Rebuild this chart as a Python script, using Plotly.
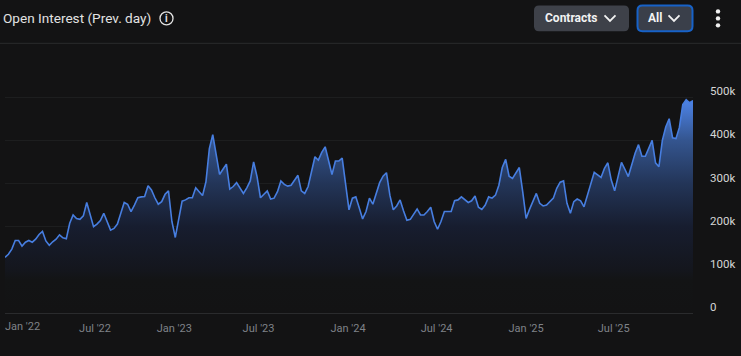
import pandas as pd
import plotly.graph_objects as go

start_date = "2022-01-26"
open_interest_k = [
    129,136,148,168,168,155,164,168,164,171,182,189,167,157,165,171,181,174,172,208,
    227,219,217,225,256,229,200,206,214,231,209,192,196,206,231,256,252,235,250,267,
    269,270,295,285,267,252,258,275,283,212,175,217,259,262,267,267,290,281,272,304,
    381,413,366,321,333,345,287,293,302,289,277,290,306,350,316,267,275,283,264,266,
    281,306,298,294,296,308,319,283,277,293,327,362,354,372,385,354,321,352,352,359,
    292,239,266,269,244,218,235,266,252,277,302,317,325,273,239,248,262,237,215,217,
    229,241,227,227,235,245,212,194,212,235,235,235,260,262,269,262,256,260,271,245,
    240,250,269,266,273,296,337,356,317,312,325,337,281,219,240,258,277,254,248,250,
    258,266,289,303,306,254,231,258,264,260,246,271,296,326,320,314,335,348,308,283,
    316,349,333,316,343,370,390,363,363,381,400,348,339,400,431,450,406,404,430,483,
    494,487,492,
]
dates = pd.date_range(start_date, periods=len(open_interest_k), freq="7D")
values = [v * 1000 for v in open_interest_k]

y_ticks = [0, 100000, 200000, 300000, 400000, 500000, 600000]
y_labels = ["0", "100k", "200k", "300k", "400k", "500k", ""]
x_tick_dates = ["2022-07-30", "2023-01-09", "2023-07-01", "2024-01-01", "2024-07-01", "2025-01-01", "2025-06-30"]
x_tick_labels = ["Jul '22", "Jan '23", "Jul '23", "Jan '24", "Jul '24", "Jan '25", "Jul '25"]

BG = "#131314"
L, R, T, B = 5, 693, 53.7, 313.3
def px(x): return (x - L) / (R - L)
def py(y): return (B - y) / (B - T)

def rrect(x0, y0, x1, y1, r):
    a, b, c, d = px(x0), py(y0), px(x1), py(y1)
    rx, ry = r / (R - L), r / (B - T)
    return (f"M{a+rx},{b} L{c-rx},{b} Q{c},{b} {c},{b-ry} L{c},{d+ry} Q{c},{d} {c-rx},{d} "
            f"L{a+rx},{d} Q{a},{d} {a},{d+ry} L{a},{b-ry} Q{a},{b} {a+rx},{b} Z")

def chevron(cx, cy):
    return f"M{px(cx-5.5)},{py(cy-3)} L{px(cx)},{py(cy+2.5)} L{px(cx+5.5)},{py(cy-3)}"

def paper_shape(**kw):
    return dict(xref="paper", yref="paper", **kw)

shapes = [
    paper_shape(type="line", x0=px(0), x1=px(741), y0=py(43), y1=py(43), line=dict(color="#2a2b2d", width=1)),
    paper_shape(type="circle", x0=px(160), x1=px(173), y0=py(11.5), y1=py(24.5), line=dict(color="#e4e4e4", width=1.3)),
    paper_shape(type="path", path=rrect(534, 5, 629, 31, 5), fillcolor="#3e4149", line=dict(width=0)),
    paper_shape(type="path", path=rrect(637.5, 5, 692.5, 31, 5), fillcolor="#3a3f4a", line=dict(color="#1762c8", width=2)),
    paper_shape(type="path", path=chevron(610, 18), line=dict(color="#f2f2f2", width=1.8)),
    paper_shape(type="path", path=chevron(674, 18), line=dict(color="#f2f2f2", width=1.8)),
]
for cy in (11, 18, 25):
    shapes.append(paper_shape(type="circle", x0=px(715.8), x1=px(720.2), y0=py(cy - 2.2), y1=py(cy + 2.2),
                              fillcolor="#f0f0f0", line=dict(width=0)))

def label(text, x, y, size, color, anchor="left", bold=False):
    return dict(text=f"<b>{text}</b>" if bold else text, xref="paper", yref="paper", x=px(x), y=py(y),
                xanchor=anchor, yanchor="middle", showarrow=False,
                font=dict(family="Roboto", size=size, color=color))

annotations = [
    label("Open Interest (Prev. day)", 1, 18, 13.6, "#e2e2e2"),
    label("i", 166.5, 18, 10, "#e4e4e4", "center", True),
    label("Contracts", 543, 18, 12, "#f2f2f2", bold=True),
    label("All", 646, 18, 12, "#f2f2f2", bold=True),
    dict(text="Jan '22", x=dates[0], xref="x", yref="paper", y=py(327), xanchor="left", yanchor="middle",
         showarrow=False, xshift=-2, font=dict(family="Roboto", size=11, color="#7f8288")),
]

fig = go.Figure(go.Scatter(
    x=dates, y=values, mode="lines", line=dict(color="#477ee0", width=1.6),
    fill="tozeroy", hoverinfo="skip",
    fillgradient=dict(
        type="vertical", start=500000, stop=0,
        colorscale=[[0, "#4f87ee"], [0.2, "#34558f"], [0.4, "#233558"], [0.6, "#171d2f"],
                    [0.8, "#14161d"], [0.85, "#131415"], [1, BG]],
    ),
))
fig.update_layout(
    width=741, height=356, autosize=False,
    margin=dict(l=L, r=741 - R, t=T, b=356 - B),
    paper_bgcolor=BG, plot_bgcolor=BG, showlegend=False,
    font=dict(family="Roboto"),
    shapes=shapes, annotations=annotations,
    xaxis=dict(range=[dates[0], dates[-1]], tickmode="array", tickvals=x_tick_dates, ticktext=x_tick_labels,
               showgrid=False, zeroline=False, showline=True, linecolor="#2a2b2d", linewidth=1, ticks="",
               tickfont=dict(family="Roboto", size=11, color="#7f8288"), ticklabelstandoff=5),
    yaxis=dict(range=[0, 600000], side="right", tickmode="array", tickvals=y_ticks, ticktext=y_labels,
               showgrid=True, gridcolor="#1d1e1f", gridwidth=1, zeroline=False, showline=False, ticks="",
               tickfont=dict(family="Roboto", size=11.5, color="#d6d6d6"), ticklabelstandoff=16, ticklabelshift=-6),
)
fig.write_html("out.html", config={"displayModeBar": False},
               post_script="document.body.style.margin='0';document.body.style.background='#131314';")
